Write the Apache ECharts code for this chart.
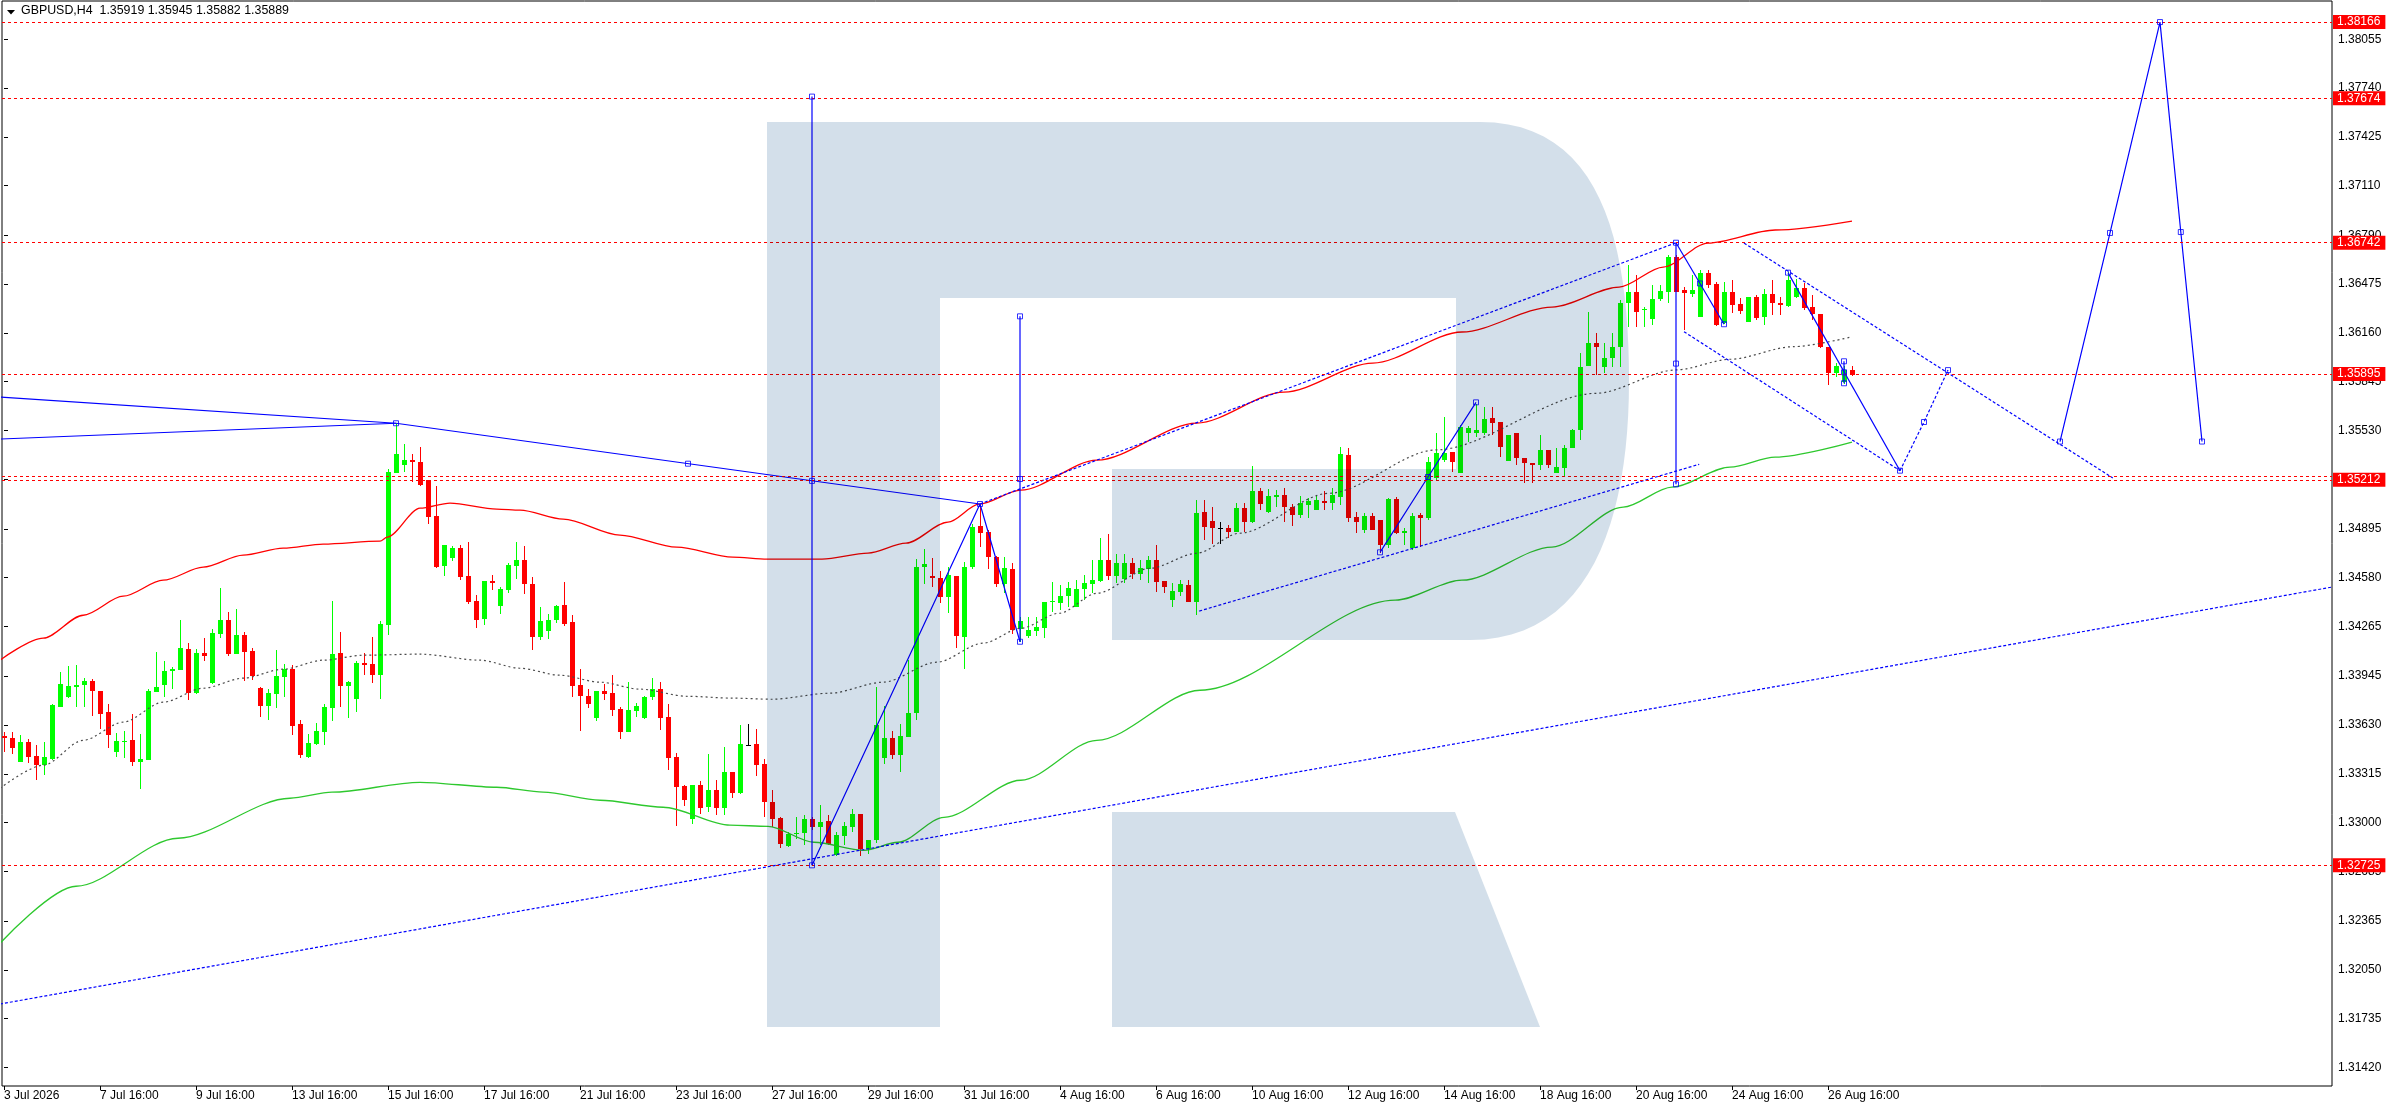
<!DOCTYPE html>
<html><head><meta charset="utf-8">
<script src="https://cdn.jsdelivr.net/npm/echarts@6/dist/echarts.min.js"></script>
<style>html,body{margin:0;padding:0;background:#fff}#c{width:2396px;height:1110px}</style>
</head><body><div id="c"></div>
<script>
const symbolName = 'GBPUSD', timeframe = 'H4';
const opens = [1.33561,1.33544,1.33391,1.33523,1.33428,1.33372,1.33409,1.33746,1.33811,1.33873,
1.33886,1.33912,1.33848,1.33712,1.33454,1.33520,1.33531,1.33391,1.33402,1.33843,
1.33886,1.33975,1.33983,1.34119,1.33837,1.34093,1.33899,1.34218,1.34306,1.34089,
1.34209,1.34108,1.33869,1.33753,1.33830,1.33938,1.33990,1.33635,1.33424,1.33508,
1.33585,1.33740,1.34093,1.33882,1.33798,1.34028,1.34022,1.33953,1.34276,1.35257,
1.35309,1.35339,1.35326,1.35212,1.34977,1.34657,1.34708,1.34771,1.34590,1.34428,
1.34312,1.34558,1.34399,1.34500,1.34657,1.34693,1.34542,1.34198,1.34237,1.34306,
1.34403,1.34293,1.33886,1.33820,1.33675,1.33848,1.33835,1.33734,1.33585,1.33718,
1.33675,1.33809,1.33865,1.33680,1.33421,1.33234,1.33026,1.33241,1.33101,1.33208,
1.33097,1.33325,1.33191,1.33503,1.33505,1.33376,1.33133,1.33030,1.32849,1.32924,
1.32935,1.33026,1.32972,1.33009,1.32789,1.32914,1.32972,1.33054,1.32828,1.32886,
1.33418,1.33549,1.33435,1.33553,1.33710,1.34647,1.34591,1.34576,1.34453,1.34591,
1.34199,1.34647,1.34916,1.34877,1.34715,1.34539,1.34634,1.34249,1.34205,1.34238,
1.34253,1.34421,1.34419,1.34461,1.34393,1.34505,1.34539,1.34558,1.34694,1.34591,
1.34575,1.34672,1.34604,1.34634,1.34694,1.34558,1.34436,1.34487,1.34532,1.34425,
1.35006,1.34948,1.34898,1.34898,1.34877,1.35027,1.34941,1.35139,1.35006,1.35103,
1.35113,1.35034,1.34984,1.35049,1.35017,1.35075,1.35060,1.35103,1.35372,1.34974,
1.34888,1.34978,1.34952,1.34791,1.35088,1.34870,1.34775,1.34984,1.34963,1.35221,
1.35339,1.35393,1.35253,1.35512,1.35512,1.35512,1.35608,1.35587,1.35335,1.35512,
1.35350,1.35318,1.35307,1.35404,1.35258,1.35286,1.35415,1.35533,1.35948,1.36097,
1.35942,1.35996,1.36071,1.36351,1.36426,1.36308,1.36248,1.36377,1.36426,1.36648,
1.36437,1.36411,1.36261,1.36549,1.36476,1.36222,1.36422,1.36347,1.36233,1.36394,
1.36261,1.36411,1.36353,1.36334,1.36394,1.36448,1.36330,1.36282,1.36071,1.35903,
1.35845,1.35919];
const highs = [1.33583,1.33583,1.33566,1.33538,1.33499,1.33518,1.33764,1.33970,1.34009,1.34015,
1.33934,1.33929,1.33848,1.33764,1.33576,1.33589,1.33699,1.33570,1.33863,1.34099,
1.34041,1.34005,1.34306,1.34157,1.34119,1.34190,1.34248,1.34513,1.34358,1.34377,
1.34228,1.34125,1.33873,1.33860,1.34112,1.34022,1.34015,1.33663,1.33572,1.33641,
1.33764,1.34429,1.34228,1.33914,1.34041,1.34095,1.34196,1.34300,1.35283,1.35576,
1.35442,1.35378,1.35425,1.35212,1.35173,1.34794,1.34784,1.34794,1.34812,1.34467,
1.34558,1.34596,1.34521,1.34672,1.34812,1.34784,1.34586,1.34392,1.34347,1.34403,
1.34551,1.34340,1.33990,1.33865,1.33848,1.33897,1.33951,1.33744,1.33906,1.33772,
1.33815,1.33932,1.33906,1.33768,1.33447,1.33241,1.33241,1.33267,1.33441,1.33273,
1.33488,1.33325,1.33628,1.33635,1.33602,1.33409,1.33208,1.33036,1.32939,1.33036,
1.33047,1.33036,1.33112,1.33052,1.32940,1.33005,1.33086,1.33054,1.32886,1.33876,
1.33751,1.33592,1.33639,1.34048,1.34698,1.34763,1.34705,1.34623,1.34647,1.34591,
1.34683,1.34926,1.35049,1.34888,1.34720,1.34711,1.34672,1.34328,1.34324,1.34324,
1.34421,1.34554,1.34532,1.34554,1.34565,1.34597,1.34694,1.34834,1.34862,1.34733,
1.34733,1.34705,1.34694,1.34720,1.34791,1.34558,1.34543,1.34565,1.34565,1.35081,
1.35081,1.35034,1.34941,1.34920,1.35060,1.35060,1.35301,1.35157,1.35150,1.35146,
1.35157,1.35055,1.35107,1.35092,1.35113,1.35139,1.35157,1.35426,1.35415,1.35006,
1.34999,1.34995,1.34952,1.35096,1.35100,1.34900,1.35000,1.34995,1.35361,1.35512,
1.35619,1.35393,1.35565,1.35559,1.35701,1.35684,1.35684,1.35587,1.35501,1.35512,
1.35350,1.35318,1.35501,1.35404,1.35415,1.35436,1.35537,1.36028,1.36297,1.36162,
1.36093,1.36162,1.36372,1.36598,1.36534,1.36330,1.36469,1.36469,1.36663,1.36665,
1.36459,1.36534,1.36566,1.36566,1.36491,1.36491,1.36502,1.36383,1.36390,1.36405,
1.36441,1.36502,1.36394,1.36555,1.36506,1.36480,1.36405,1.36282,1.36071,1.35964,
1.35945,1.35945];
const lows = [1.33456,1.33445,1.33391,1.33385,1.33273,1.33310,1.33402,1.33746,1.33805,1.33746,
1.33746,1.33686,1.33604,1.33482,1.33424,1.33417,1.33363,1.33217,1.33402,1.33843,
1.33811,1.33860,1.33983,1.33792,1.33828,1.34043,1.33895,1.34192,1.34076,1.34089,
1.33914,1.33923,1.33682,1.33663,1.33740,1.33811,1.33566,1.33417,1.33417,1.33501,
1.33501,1.33656,1.33746,1.33675,1.33714,1.33951,1.33901,1.33798,1.34211,1.35257,
1.35261,1.35195,1.35173,1.34930,1.34644,1.34592,1.34689,1.34564,1.34411,1.34256,
1.34278,1.34500,1.34343,1.34482,1.34573,1.34474,1.34112,1.34181,1.34183,1.34289,
1.34269,1.33811,1.33592,1.33740,1.33656,1.33792,1.33690,1.33540,1.33585,1.33682,
1.33669,1.33792,1.33598,1.33340,1.32978,1.33107,1.32993,1.33058,1.33069,1.33051,
1.33047,1.33159,1.33187,1.33499,1.33301,1.33036,1.32972,1.32838,1.32843,1.32892,
1.32853,1.32950,1.32854,1.32854,1.32783,1.32854,1.32940,1.32783,1.32800,1.32865,
1.33375,1.33409,1.33327,1.33553,1.33661,1.34539,1.34522,1.34419,1.34350,1.34128,
1.33994,1.34636,1.34780,1.34634,1.34522,1.34479,1.34214,1.34167,1.34194,1.34203,
1.34192,1.34356,1.34370,1.34388,1.34393,1.34436,1.34483,1.34554,1.34565,1.34548,
1.34548,1.34573,1.34565,1.34548,1.34490,1.34479,1.34388,1.34461,1.34425,1.34337,
1.34823,1.34801,1.34801,1.34834,1.34877,1.34877,1.34931,1.35017,1.34995,1.35038,
1.34941,1.34913,1.34963,1.34963,1.35017,1.35017,1.35017,1.35049,1.34941,1.34866,
1.34866,1.34888,1.34737,1.34769,1.34860,1.34790,1.34760,1.34780,1.34952,1.35210,
1.35329,1.35264,1.35253,1.35458,1.35490,1.35501,1.35501,1.35361,1.35335,1.35307,
1.35193,1.35189,1.35275,1.35286,1.35253,1.35232,1.35415,1.35469,1.35948,1.35888,
1.35900,1.35942,1.35942,1.36200,1.36200,1.36200,1.36211,1.36368,1.36351,1.36426,
1.36179,1.36394,1.36261,1.36448,1.36205,1.36217,1.36286,1.36280,1.36233,1.36243,
1.36211,1.36276,1.36276,1.36330,1.36383,1.36308,1.36243,1.36060,1.35824,1.35877,
1.35830,1.35882];
const closes = [1.33548,1.33484,1.33523,1.33424,1.33372,1.33421,1.33757,1.33893,1.33880,1.33886,
1.33912,1.33850,1.33699,1.33566,1.33525,1.33529,1.33391,1.33409,1.33848,1.33873,
1.33979,1.33992,1.34125,1.33837,1.34093,1.34076,1.34222,1.34306,1.34089,1.34209,
1.34102,1.33947,1.33753,1.33835,1.33944,1.33990,1.33624,1.33437,1.33512,1.33589,
1.33744,1.34086,1.33882,1.33906,1.34028,1.34015,1.33953,1.34280,1.35261,1.35378,
1.35339,1.35324,1.35178,1.34973,1.34650,1.34790,1.34771,1.34586,1.34424,1.34310,
1.34558,1.34547,1.34506,1.34661,1.34693,1.34538,1.34198,1.34300,1.34310,1.34399,
1.34280,1.33880,1.33815,1.33768,1.33848,1.33828,1.33725,1.33585,1.33725,1.33753,
1.33809,1.33860,1.33675,1.33417,1.33230,1.33146,1.33241,1.33097,1.33208,1.33097,
1.33325,1.33191,1.33505,1.33503,1.33370,1.33133,1.33026,1.32864,1.32929,1.32935,
1.33026,1.32972,1.33005,1.32860,1.32918,1.32979,1.33054,1.32828,1.32886,1.33629,
1.33549,1.33435,1.33558,1.33710,1.34647,1.34668,1.34580,1.34453,1.34597,1.34205,
1.34647,1.34909,1.34870,1.34715,1.34539,1.34640,1.34242,1.34298,1.34242,1.34263,
1.34421,1.34431,1.34461,1.34517,1.34505,1.34543,1.34565,1.34694,1.34591,1.34672,
1.34672,1.34604,1.34640,1.34694,1.34554,1.34522,1.34494,1.34539,1.34425,1.34995,
1.34909,1.34898,1.34898,1.34877,1.35027,1.34941,1.35139,1.35055,1.35107,1.35113,
1.35038,1.34984,1.35060,1.35075,1.35081,1.35064,1.35113,1.35376,1.34967,1.34941,
1.34978,1.34888,1.34791,1.35088,1.34870,1.34880,1.34978,1.34967,1.35329,1.35383,
1.35383,1.35329,1.35555,1.35544,1.35533,1.35604,1.35580,1.35426,1.35501,1.35350,
1.35318,1.35307,1.35404,1.35307,1.35296,1.35415,1.35533,1.35942,1.36097,1.36067,
1.35996,1.36071,1.36351,1.36426,1.36297,1.36312,1.36377,1.36433,1.36652,1.36426,
1.36420,1.36437,1.36549,1.36469,1.36211,1.36426,1.36340,1.36301,1.36390,1.36254,
1.36411,1.36351,1.36342,1.36502,1.36448,1.36319,1.36282,1.36067,1.35899,1.35948,
1.35920,1.35889];

const xTickBars = [0,12,24,36,48,60,72,84,96,108,120,132,144,156,168,180,192,204,216,228];
const xTickLabels = ['3 Jul 2026','7 Jul 16:00','9 Jul 16:00','13 Jul 16:00','15 Jul 16:00','17 Jul 16:00','21 Jul 16:00','23 Jul 16:00','27 Jul 16:00','29 Jul 16:00','31 Jul 16:00','4 Aug 16:00','6 Aug 16:00','10 Aug 16:00','12 Aug 16:00','14 Aug 16:00','18 Aug 16:00','20 Aug 16:00','24 Aug 16:00','26 Aug 16:00'];
const yTickValues = [1.38055,1.37740,1.37425,1.37110,1.36790,1.36475,1.36160,1.35845,1.35530,1.35215,1.34895,1.34580,1.34265,1.33945,1.33630,1.33315,1.33000,1.32685,1.32365,1.32050,1.31735,1.31420];
const levelLines = [1.38166,1.37674,1.36742,1.35895,1.35212,1.32725];
const extraLevels = [1.35232];

const redMA = [[-0.5,1.34048],[4.9,1.34190],[9.9,1.34338],[14.9,1.34461],[19.9,1.34564],[24.9,1.34648],[29.9,1.34726],[34.9,1.34771],[39.9,1.34797],[47,1.34816],[47.9,1.34842],[52,1.35029],[55.75,1.35062],[61.6,1.35023],[64.5,1.35016],[69.9,1.34958],[77,1.34855],[84.1,1.34777],[91.1,1.34713],[95.4,1.34700],[102.25,1.34700],[108,1.34739],[112.75,1.34803],[118,1.34939],[121.9,1.35055],[127.1,1.35145],[136.6,1.35339],[149.1,1.35578],[160,1.35778],[171.1,1.35965],[182.25,1.36166],[193.5,1.36327],[201.9,1.36456],[207.4,1.36585],[213,1.36740],[221.4,1.36824],[231,1.36882]];
const grayMA = [[-0.5,1.33221],[4.9,1.33370],[9.9,1.33531],[14.9,1.33648],[19.9,1.33777],[24.9,1.33867],[29.9,1.33932],[34.9,1.33990],[39.9,1.34048],[44.9,1.34080],[52,1.34087],[59.5,1.34048],[64.5,1.33996],[69.5,1.33951],[74.5,1.33906],[79.5,1.33861],[85.4,1.33815],[91.1,1.33803],[96,1.33796],[103.25,1.33835],[109.9,1.33906],[116.6,1.34035],[122.4,1.34158],[127.1,1.34254],[131.9,1.34351],[136.6,1.34480],[143.25,1.34641],[149.1,1.34738],[154.4,1.34867],[165.6,1.35125],[179,1.35405],[199,1.35770],[209,1.35921],[215.8,1.35990],[223.6,1.36071],[231,1.36135]];
const greenMA = [[-0.5,1.32221],[9,1.32589],[21.75,1.32899],[35.75,1.33157],[41,1.33196],[52,1.33260],[61.6,1.33228],[67.4,1.33196],[74.5,1.33144],[82.4,1.33099],[90.75,1.32983],[95.5,1.32976],[101.25,1.32873],[107.5,1.32821],[111.75,1.32873],[117.5,1.33034],[127.1,1.33273],[136.6,1.33531],[149.5,1.33854],[173.9,1.34435],[182.25,1.34564],[193.5,1.34778],[202.4,1.35036],[208.5,1.35165],[215.75,1.35294],[221.4,1.35359],[231,1.35456]];

// drawn analysis objects: [bar, price]
const solidObjects = [
  [[-0.5,1.35746],[49,1.35577]],
  [[-0.5,1.35475],[49,1.35577]],
  [[49,1.35577],[122,1.35056]],
  [[101,1.37685],[101,1.32724]],
  [[101,1.32724],[122,1.35056],[127,1.34167]],
  [[127,1.36267],[127,1.34167]],
  [[172,1.34744],[178,1.35230],[184,1.35712]],
  [[209,1.36742],[209,1.35183]],
  [[209,1.36742],[215,1.36216]],
  [[223,1.36549],[237,1.35271]],
  [[230,1.35977],[230,1.35835]],
  [[257,1.35459],[263.25,1.36805],[269.5,1.38166],[272.1,1.36811],[274.75,1.35459]]
];
const dottedObjects = [
  [[122,1.35056],[209,1.36742]],
  [[149.4,1.34365],[211.9,1.35312]],
  [[-0.5,1.31829],[291,1.34520]],
  [[217.5,1.36740],[263.6,1.35224]],
  [[210,1.36168],[237,1.35271]],
  [[237,1.35271],[240,1.35585],[243,1.35920]]
];
const handles = [[49,1.35577],[85.5,1.35316],[122,1.35056],[101,1.37685],[101,1.35205],[101,1.32724],
  [127,1.36267],[127,1.35217],[127,1.34167],[172,1.34744],[178,1.35230],[184,1.35712],
  [209,1.36742],[209,1.35962],[209,1.35183],[212,1.36479],[215,1.36216],
  [223,1.36549],[230,1.35977],[230,1.35906],[230,1.35835],
  [237,1.35271],[240,1.35585],[243,1.35920],
  [257,1.35459],[263.25,1.36805],[269.5,1.38166],[272.1,1.36811],[274.75,1.35459]];

const BULL = '#00ff00', BEAR = '#ff0000', DOJI = '#000000', BLUE = '#0000ff', LOGO = '#d3dfea';
const FONT = 'Liberation Sans, Arial, sans-serif';

const candleData = opens.map((o, i) => [i, o, closes[i], lows[i], highs[i]]);
function renderCandle(params, api) {
  const i = api.value(0), o = api.value(1), c = api.value(2), l = api.value(3), h = api.value(4);
  const pO = api.coord([i, o]), pC = api.coord([i, c]), pL = api.coord([i, l]), pH = api.coord([i, h]);
  const cx = Math.floor(pO[0]);
  const col = c > o ? BULL : (c < o ? BEAR : DOJI);
  const top = Math.round(Math.min(pO[1], pC[1])), bot = Math.round(Math.max(pO[1], pC[1]));
  const wt = Math.round(pH[1]), wb = Math.round(pL[1]);
  return {type: 'group', children: [
    {type: 'rect', shape: {x: cx, y: wt, width: 1, height: Math.max(1, wb - wt)}, style: {fill: col}},
    {type: 'rect', shape: {x: cx - 2, y: top, width: 5, height: Math.max(1, bot - top)}, style: {fill: col}}
  ]};
}

function bez(p0, p1, p2, p3, n) {
  const pts = [];
  for (let k = 1; k <= n; k++) {
    const t = k / n, u = 1 - t;
    pts.push([u*u*u*p0[0] + 3*u*u*t*p1[0] + 3*u*t*t*p2[0] + t*t*t*p3[0],
              u*u*u*p0[1] + 3*u*u*t*p1[1] + 3*u*t*t*p2[1] + t*t*t*p3[1]]);
  }
  return pts;
}
const bowlPts = [[940,122],[1480,122]]
  .concat(bez([1480,122],[1600,122],[1629,240],[1629,381],24))
  .concat(bez([1629,381],[1629,520],[1590,640],[1470,640],24))
  .concat([[1112,640],[1112,469],[1456,469],[1456,298],[940,298]]);
const legPts = [[1112,812],[1455,812],[1540,1027],[1112,1027]];
const logoStyle = {fill: LOGO, blend: 'multiply'};

const last = opens.length - 1;
const headerText = symbolName + ',' + timeframe + '  ' + opens[last].toFixed(5) + ' ' + highs[last].toFixed(5) + ' ' + lows[last].toFixed(5) + ' ' + closes[last].toFixed(5);

const series = [
  {type: 'custom', name: 'candles', renderItem: renderCandle, data: candleData, encode: {x: 0, y: [1,2,3,4]}, clip: true, z: 2, silent: true},
  {type: 'line', data: redMA, showSymbol: false, symbol: 'none', smooth: 0.3, smoothMonotone: 'x', clip: true, z: 3, silent: true, lineStyle: {color: '#ff0000', width: 1.3}},
  {type: 'line', data: grayMA, showSymbol: false, symbol: 'none', smooth: 0.3, smoothMonotone: 'x', clip: true, z: 3, silent: true, lineStyle: {color: '#4a4a4a', width: 1.2, type: [2,3]}},
  {type: 'line', data: greenMA, showSymbol: false, symbol: 'none', smooth: 0.3, smoothMonotone: 'x', clip: true, z: 3, silent: true, lineStyle: {color: '#2ec82e', width: 1.3},
    markLine: {silent: true, symbol: ['none','none'], animation: false, precision: 5,
      lineStyle: {color: '#ff0000', width: 1, type: [3,3]},
      label: {show: true, position: 'end', distance: 1, formatter: p => Number(p.value).toFixed(5), color: '#fff', backgroundColor: '#ff0000', fontSize: 12, fontFamily: FONT, lineHeight: 13, padding: [1,5,0,4]},
      data: levelLines.map(v => ({yAxis: v})).concat(extraLevels.map(v => ({yAxis: v, label: {show: false}})))}}
];
solidObjects.forEach(d => series.push({type: 'line', data: d, showSymbol: false, symbol: 'none', clip: true, z: 4, silent: true, lineStyle: {color: BLUE, width: 1.2}}));
dottedObjects.forEach(d => series.push({type: 'line', data: d, showSymbol: false, symbol: 'none', clip: true, z: 4, silent: true, lineStyle: {color: BLUE, width: 1.2, type: [3,2]}}));
series.push({type: 'scatter', data: handles, symbol: 'rect', symbolSize: 5, z: 5, silent: true, itemStyle: {color: 'rgba(255,255,255,0)', borderColor: BLUE, borderWidth: 1}});

const chart = echarts.init(document.getElementById('c'), null, {renderer: 'canvas'});
chart.setOption({
  animation: false,
  backgroundColor: '#ffffff',
  grid: {left: 2, right: 64, top: 1, bottom: 24, show: true, borderColor: '#000', borderWidth: 1, backgroundColor: 'transparent'},
  xAxis: {type: 'value', min: -0.25, max: 291,
    axisLine: {show: false}, splitLine: {show: false},
    axisTick: {show: true, customValues: xTickBars, length: 4, lineStyle: {color: '#000'}},
    axisLabel: {customValues: xTickBars, formatter: v => xTickLabels[Math.round(v / 12)] || '', align: 'left', margin: 4, color: '#000', fontSize: 12, fontFamily: FONT}},
  yAxis: {type: 'value', position: 'right', min: 1.31300, max: 1.38302, scale: true,
    axisLine: {show: false}, splitLine: {show: false},
    axisTick: {show: true, customValues: yTickValues, length: 4, lineStyle: {color: '#000'}},
    axisLabel: {customValues: yTickValues, formatter: v => Number(v).toFixed(5), margin: 6, color: '#000', fontSize: 12, fontFamily: FONT}},
  series: series,
  graphic: [
    {type: 'rect', shape: {x: 767, y: 122, width: 173, height: 905}, style: logoStyle, z: 100, silent: true},
    {type: 'polygon', shape: {points: bowlPts}, style: logoStyle, z: 100, silent: true},
    {type: 'polygon', shape: {points: legPts}, style: logoStyle, z: 100, silent: true},
    {type: 'polygon', shape: {points: [[7,10],[15,10],[11,14.5]]}, style: {fill: '#000'}, z: 110, silent: true},
    {type: 'text', x: 21, y: 5, style: {text: headerText, font: '12.4px ' + FONT, fill: '#000'}, z: 110, silent: true}
  ]
});
</script>
</body></html>
